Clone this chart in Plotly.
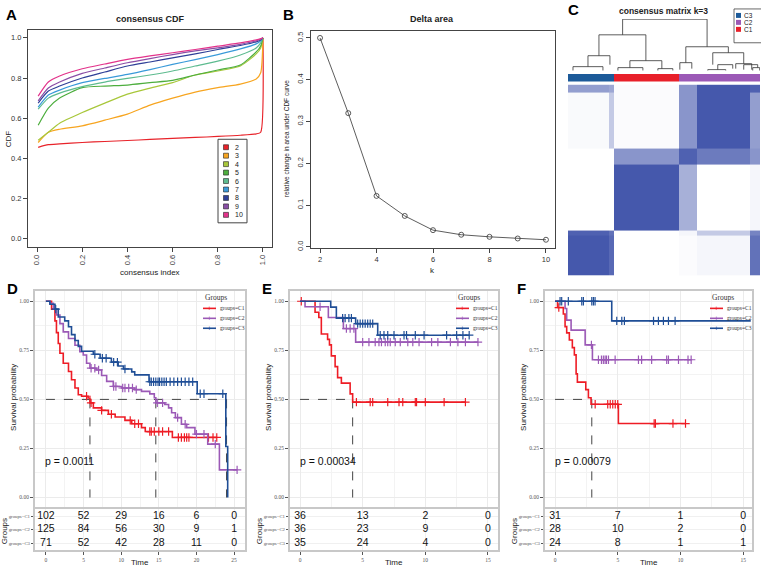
import numpy as np
import plotly.graph_objects as go

W, H = 761, 572
def px(x): return x / W
def py(y): return 1 - y / H
SANS = "Liberation Sans, Arial, sans-serif"
SERIF = "Liberation Serif, Times New Roman, serif"

# ---------------- Panel A: consensus CDF ----------------
cdf_x = [0.005, 0.05, 0.1, 0.2, 0.3, 0.4, 0.5, 0.6, 0.7, 0.8, 0.9, 0.97, 0.99, 1.0]
cdf_k2 = [0.455, 0.468, 0.472, 0.479, 0.484, 0.489, 0.494, 0.499, 0.504, 0.509, 0.515, 0.522, 0.53, 1.0]
cdf_k3 = [0.479, 0.53, 0.545, 0.562, 0.59, 0.62, 0.665, 0.70, 0.73, 0.752, 0.77, 0.795, 0.826, 1.0]
cdf_k4 = [0.49, 0.53, 0.575, 0.628, 0.675, 0.72, 0.75, 0.777, 0.815, 0.835, 0.86, 0.92, 0.95, 1.0]
cdf_k5 = [0.565, 0.65, 0.70, 0.752, 0.76, 0.765, 0.777, 0.788, 0.815, 0.84, 0.865, 0.93, 0.96, 1.0]
cdf_k6 = [0.645, 0.70, 0.725, 0.757, 0.78, 0.798, 0.815, 0.835, 0.86, 0.884, 0.915, 0.95, 0.975, 1.0]
cdf_k7 = [0.655, 0.715, 0.74, 0.777, 0.798, 0.818, 0.842, 0.868, 0.892, 0.917, 0.945, 0.97, 0.985, 1.0]
cdf_k8 = [0.675, 0.735, 0.76, 0.80, 0.83, 0.86, 0.88, 0.90, 0.92, 0.942, 0.962, 0.98, 0.99, 1.0]
cdf_k9 = [0.686, 0.75, 0.78, 0.823, 0.85, 0.876, 0.897, 0.917, 0.935, 0.95, 0.968, 0.985, 0.993, 1.0]
cdf_k10 = [0.71, 0.78, 0.81, 0.846, 0.87, 0.893, 0.91, 0.926, 0.942, 0.959, 0.975, 0.99, 0.996, 1.0]
cdf_labels = ["2", "3", "4", "5", "6", "7", "8", "9", "10"]
cdf_colors = ["#E8232A", "#F7A520", "#A8C73A", "#4DAE3E", "#5DBB8F", "#3A9AD9", "#2E3F97", "#8A4FA6", "#E3338B"]

# ---------------- Panel B: delta area ----------------
delta_k = [2, 3, 4, 5, 6, 7, 8, 9, 10]
delta_val = [0.5, 0.32, 0.122, 0.074, 0.04, 0.029, 0.024, 0.02, 0.017]

# ---------------- Panel C: consensus matrix ----------------
hm_col_edges = [0, 40.7, 46, 111.3, 129, 182.3, 192.3]
hm_row_edges = [0, 8.3, 64.3, 81, 146.7, 151.7, 192.3]
hm_values = [
    [0.55, 0.5, 0.02, 0.6, 0.95, 0.9],
    [0.03, 0.3, 0.02, 0.6, 0.95, 0.55],
    [0.0, 0.0, 0.6, 0.9, 0.75, 0.6],
    [0.0, 0.0, 0.95, 0.45, 0.0, 0.05],
    [0.9, 0.8, 0.0, 0.05, 0.3, 0.7],
    [0.95, 0.85, 0.0, 0.02, 0.05, 0.8],
]
cluster_edges = [0, 46, 111.3, 192.3]
cluster_names = ["C3", "C1", "C2"]
cluster_colors = {"C3": "#1C5A99", "C2": "#9B59B6", "C1": "#E8202A"}
# dendrogram links: left x, right x, left child height, right child height, merge height
dend_x0 = [54.7, 31, 20, 62, 118, 112, 145, 150, 168, 176, 5, 50, 90, 140, 185]
dend_x1 = [139.3, 78, 42, 94, 160.6, 124, 176, 165, 184, 190, 35, 75, 105, 158, 192]
dend_h0 = [36, 15, 4, 3, 8, 1, 6, 1, 2, 1, 0, 0, 0, 0, 0]
dend_h1 = [24, 10, 6, 2, 18, 2, 7, 2, 1, 3, 0, 0, 0, 0, 0]
dend_top = [51.7, 36, 15, 10, 24, 8, 18, 6, 7, 6, 4, 3, 2, 1, 3]

# ---------------- Panels D/E/F: Kaplan-Meier ----------------
D_C1_t = [0, 0.75, 1.2, 1.4, 1.64, 1.86, 2.3, 3.0, 3.4, 3.86, 4.3, 4.74, 5.6, 5.85, 6.3, 7.4, 8.3, 9.2, 10.5, 11.4, 12.7, 13.2, 16.8, 22.7]
D_C1_s = [1.0, 0.96, 0.90, 0.84, 0.785, 0.735, 0.684, 0.642, 0.60, 0.558, 0.524, 0.516, 0.507, 0.482, 0.457, 0.444, 0.424, 0.41, 0.393, 0.376, 0.356, 0.336, 0.306, 0.306]
D_C1_cens = [5.4, 6.0, 7.4, 8.7, 11.2, 11.8, 12.3, 13.8, 14.0, 14.4, 15.0, 15.5, 16.3, 17.6, 18.0, 18.4, 18.7, 19.0, 21.6, 22.2, 22.7]
D_C2_t = [0, 0.53, 1.0, 1.4, 1.86, 2.3, 3.0, 3.86, 4.5, 4.96, 5.4, 5.85, 6.7, 7.4, 8.07, 8.95, 10.06, 11.8, 12.7, 13.8, 14.4, 14.6, 15.8, 16.3, 16.7, 17.2, 18.0, 18.7, 19.8, 21.5, 23.05, 25.4]
D_C2_s = [1.0, 0.99, 0.96, 0.93, 0.886, 0.844, 0.81, 0.776, 0.743, 0.726, 0.684, 0.659, 0.65, 0.622, 0.592, 0.566, 0.558, 0.55, 0.541, 0.528, 0.508, 0.482, 0.474, 0.457, 0.432, 0.407, 0.373, 0.356, 0.323, 0.272, 0.141, 0.141]
D_C2_cens = [6.0, 6.5, 7.0, 9.0, 9.3, 10.2, 10.5, 11.0, 11.5, 12.0, 14.8, 15.5, 17.5, 18.5, 20.0, 21.0, 22.5, 25.4]
D_C3_t = [0, 0.53, 1.2, 1.64, 2.5, 3.0, 3.4, 3.86, 4.3, 4.74, 6.3, 7.2, 8.7, 9.6, 10.3, 11.4, 11.8, 13.7, 20.1, 23.9, 24.15]
D_C3_s = [1.0, 0.985, 0.96, 0.92, 0.90, 0.87, 0.83, 0.80, 0.77, 0.745, 0.73, 0.71, 0.69, 0.67, 0.655, 0.64, 0.625, 0.59, 0.529, 0.26, 0.0]
D_C3_cens = [1.3, 6.5, 7.5, 8.0, 9.0, 9.5, 10.5, 13.8, 14.0, 14.3, 14.6, 14.9, 15.1, 15.4, 15.7, 16.0, 16.5, 17.0, 17.5, 18.0, 18.5, 19.0, 19.5, 20.5, 21.0, 23.5]
D_medians = [5.85, 14.6, 24.0]
D_times = [0, 5, 10, 15, 20, 25]
D_risk_C1 = [102, 52, 29, 16, 6, 0]
D_risk_C2 = [125, 84, 56, 30, 9, 1]
D_risk_C3 = [71, 52, 42, 28, 11, 0]
D_p = "p = 0.0011"

E_C1_t = [0, 1.2, 1.5, 1.7, 2.2, 2.35, 2.5, 2.8, 3.0, 3.3, 4.0, 4.2, 13.2]
E_C1_s = [1.0, 0.944, 0.917, 0.833, 0.806, 0.778, 0.722, 0.667, 0.611, 0.583, 0.528, 0.486, 0.486]
E_C1_cens = [0.1, 4.5, 5.6, 5.8, 7.0, 7.9, 8.2, 9.2, 9.3, 10.0, 11.5, 13.2]
E_C2_t = [0, 0.4, 2.26, 3.46, 4.44, 14.2]
E_C2_s = [1.0, 0.972, 0.917, 0.861, 0.792, 0.792]
E_C2_cens = [1.6, 3.7, 4.0, 4.3, 5.0, 5.5, 6.0, 6.3, 6.5, 6.8, 7.0, 7.2, 7.6, 8.0, 8.6, 9.0, 9.5, 10.5, 11.0, 12.0, 12.6, 13.2, 14.2]
E_C3_t = [0, 2.45, 2.9, 4.44, 6.2, 13.5]
E_C3_s = [1.0, 0.97, 0.914, 0.886, 0.827, 0.827]
E_C3_cens = [3.4, 3.6, 3.9, 4.1, 4.6, 4.8, 5.0, 5.2, 5.4, 5.6, 5.8, 6.4, 6.7, 7.0, 7.5, 8.3, 8.5, 9.2, 9.9, 11.7, 12.5, 13.0, 13.5]
E_medians = [4.2]
E_times = [0, 5, 10, 15]
E_risk_C1 = [36, 13, 2, 0]
E_risk_C2 = [36, 23, 9, 0]
E_risk_C3 = [35, 24, 4, 0]
E_p = "p = 0.00034"

F_C1_t = [0, 0.2, 0.66, 0.8, 0.93, 1.14, 1.38, 1.54, 1.68, 1.78, 2.45, 2.66, 2.87, 5.05, 10.4]
F_C1_s = [1.0, 0.968, 0.935, 0.871, 0.839, 0.803, 0.764, 0.727, 0.63, 0.588, 0.55, 0.508, 0.475, 0.377, 0.377]
F_C1_cens = [0.3, 3.2, 4.2, 4.4, 4.6, 4.8, 5.0, 7.9, 8.0, 9.4, 10.4]
F_C2_t = [0, 0.8, 0.93, 1.28, 2.4, 2.98, 10.85]
F_C2_s = [1.0, 0.963, 0.904, 0.853, 0.778, 0.702, 0.702]
F_C2_cens = [2.9, 3.46, 3.7, 3.85, 3.99, 4.1, 4.26, 4.79, 6.65, 6.9, 7.7, 8.9, 9.04, 9.84, 10.6, 10.85]
F_C3_t = [0, 4.52, 15.6]
F_C3_s = [1.0, 0.9, 0.9]
F_C3_cens = [0.4, 0.53, 1.06, 2.13, 2.26, 2.93, 3.06, 3.19, 4.92, 5.32, 5.53, 7.85, 8.24, 8.64, 9.04, 9.57]
F_medians = [2.93]
F_times = [0, 5, 10, 15]
F_risk_C1 = [31, 7, 1, 0]
F_risk_C2 = [28, 10, 2, 0]
F_risk_C3 = [24, 8, 1, 1]
F_p = "p = 0.00079"

group_labels = ["groups=C1", "groups=C2", "groups=C3"]
km_colors = ["#EE1C25", "#9B59B6", "#1F4E96"]

fig = go.Figure()
layout = dict(width=W, height=H, margin=dict(l=0, r=0, t=0, b=0),
              paper_bgcolor="white", plot_bgcolor="white", showlegend=False)
annotations = []
shapes = []

def text(x, y, s, size=8, color="#222", bold=False, angle=0, xanchor="center", yanchor="middle", font=SANS):
    annotations.append(dict(x=px(x), y=py(y), xref="paper", yref="paper", text=("<b>%s</b>" % s) if bold else s,
                            showarrow=False, font=dict(size=size, color=color, family=font),
                            textangle=angle, xanchor=xanchor, yanchor=yanchor))

def base_axis(dom, anchor, **kw):
    d = dict(domain=dom, anchor=anchor, showline=True, mirror=True, linecolor="#444", linewidth=1,
             ticks="outside", ticklen=4, tickcolor="#444", tickwidth=1,
             showgrid=False, zeroline=False, tickfont=dict(size=7.5, color="#333", family=SANS))
    d.update(kw)
    return d

# ---- A ----
for ys, lab, col in zip([cdf_k2, cdf_k3, cdf_k4, cdf_k5, cdf_k6, cdf_k7, cdf_k8, cdf_k9, cdf_k10], cdf_labels, cdf_colors):
    fig.add_trace(go.Scatter(x=cdf_x, y=ys, mode="lines", line=dict(color=col, width=1.2, shape="spline", smoothing=0.6),
                             xaxis="x", yaxis="y", name=lab))
layout["xaxis"] = base_axis([px(28), px(272)], "y", range=[-0.04, 1.04], tickvals=[0, 0.2, 0.4, 0.6, 0.8, 1.0],
                            ticktext=["0.0", "0.2", "0.4", "0.6", "0.8", "1.0"], tickangle=-90)
layout["yaxis"] = base_axis([py(248), py(30)], "x", range=[-0.04, 1.04], tickvals=[0, 0.2, 0.4, 0.6, 0.8, 1.0],
                            ticktext=["0.0", "0.2", "0.4", "0.6", "0.8", "1.0"])
text(4, 15, "A", size=15, bold=True, color="#000", xanchor="left")
text(150, 19, "consensus CDF", size=9, bold=True)
text(150, 274, "consensus index", size=8)
text(8, 140, "CDF", size=8, angle=-90)
shapes.append(dict(type="rect", xref="paper", yref="paper", x0=px(218), x1=px(247), y0=py(224), y1=py(140),
                   line=dict(color="#444", width=1), fillcolor="white"))
for i, (lab, col) in enumerate(zip(cdf_labels, cdf_colors)):
    yy = 148 + i * 8.5
    shapes.append(dict(type="rect", xref="paper", yref="paper", x0=px(223.5), x1=px(228.5), y0=py(yy + 2.5), y1=py(yy - 2.5),
                       line=dict(color="#222", width=0.6), fillcolor=col))
    text(233, yy, lab, size=7, xanchor="left")

# ---- B ----
fig.add_trace(go.Scatter(x=delta_k, y=delta_val, mode="lines+markers", line=dict(color="#333", width=0.8),
                         marker=dict(symbol="circle-open", size=5, color="#333", line=dict(width=0.8)),
                         xaxis="x2", yaxis="y2"))
layout["xaxis2"] = base_axis([px(311), px(555)], "y2", range=[1.68, 10.32], tickvals=[2, 4, 6, 8, 10])
layout["yaxis2"] = base_axis([py(249), py(31)], "x2", range=[-0.002, 0.517], tickvals=[0, 0.1, 0.2, 0.3, 0.4, 0.5],
                             ticktext=["0.0", "0.1", "0.2", "0.3", "0.4", "0.5"], tickangle=-90)
text(281, 15, "B", size=15, bold=True, color="#000", xanchor="left")
text(432, 19, "Delta area", size=9, bold=True)
text(432, 272, "k", size=8)
text(287, 140, "relative change in area under CDF curve", size=6.5, angle=-90)

# ---- C ----
fig.add_trace(go.Heatmap(x=hm_col_edges, y=hm_row_edges, z=hm_values, zmin=0, zmax=1,
                         colorscale=[[0, "#FFFFFF"], [1, "#3B4FA8"]], showscale=False, xaxis="x3", yaxis="y3"))
hid = dict(showline=False, showticklabels=False, ticks="", showgrid=False, zeroline=False)
layout["xaxis3"] = dict(domain=[px(568), px(760)], anchor="y3", range=[0, 192.3], **hid)
layout["yaxis3"] = dict(domain=[py(277), py(85)], anchor="x3", range=[192.3, 0], **hid)
for i, nm in enumerate(cluster_names):
    fig.add_trace(go.Bar(x=[(cluster_edges[i] + cluster_edges[i + 1]) / 2], y=[1],
                         width=[cluster_edges[i + 1] - cluster_edges[i]], marker=dict(color=cluster_colors[nm], line=dict(width=0)),
                         xaxis="x4", yaxis="y4"))
layout["xaxis4"] = dict(domain=[px(568), px(760)], anchor="y4", range=[0, 192.3], **hid)
layout["yaxis4"] = dict(domain=[py(82), py(74)], anchor="x4", range=[0, 1], **hid)
dx, dy = [], []
for a, b, h0, h1, t in zip(dend_x0, dend_x1, dend_h0, dend_h1, dend_top):
    dx += [a, a, b, b, None]
    dy += [h0, t, t, h1, None]
fig.add_trace(go.Scatter(x=dx, y=dy, mode="lines", line=dict(color="#333", width=0.8), xaxis="x5", yaxis="y5"))
layout["xaxis5"] = dict(domain=[px(568), px(760)], anchor="y5", range=[0, 192.3], **hid)
layout["yaxis5"] = dict(domain=[py(71), py(19)], anchor="x5", range=[0, 52], **hid)
text(566, 10, "C", size=15, bold=True, color="#000", xanchor="left")
text(663, 11, "consensus matrix k=3", size=8.5, bold=True)
shapes.append(dict(type="rect", xref="paper", yref="paper", x0=px(734), x1=px(762), y0=py(43), y1=py(9),
                   line=dict(color="#444", width=0.8), fillcolor="white"))
for i, nm in enumerate(["C3", "C2", "C1"]):
    yy = 15.5 + i * 7
    shapes.append(dict(type="rect", xref="paper", yref="paper", x0=px(736), x1=px(741), y0=py(yy + 2.5), y1=py(yy - 2.5),
                       line=dict(width=0), fillcolor=cluster_colors[nm]))
    text(742, yy, nm, size=6.5, xanchor="left")

# ---- KM panels ----
def step_value(t, s, c):
    i = np.searchsorted(np.array(t), c, side="right") - 1
    return s[max(i, 0)]

def km_panel(ix, ix2, xl, xr, xrange, curves, cens, medians, times, risks, ptxt, letter):
    xa, ya, xb, yb = "x%d" % ix, "y%d" % ix, "x%d" % ix2, "y%d" % ix2
    fig.add_trace(go.Scatter(x=[0, max(medians)], y=[0.5, 0.5], mode="lines", line=dict(color="#444", width=1, dash="dash"),
                             xaxis=xa, yaxis=ya))
    for m in medians:
        fig.add_trace(go.Scatter(x=[m, m], y=[0.5, 0], mode="lines", line=dict(color="#444", width=1, dash="dash"),
                                 xaxis=xa, yaxis=ya))
    for (t, s), c, col in zip(curves, cens, km_colors):
        fig.add_trace(go.Scatter(x=t, y=s, mode="lines", line=dict(color=col, width=1.6, shape="hv"), xaxis=xa, yaxis=ya))
        fig.add_trace(go.Scatter(x=c, y=[step_value(t, s, v) for v in c], mode="markers",
                                 marker=dict(symbol="cross-thin", size=6, line=dict(color=col, width=1.2)),
                                 xaxis=xa, yaxis=ya))
    grid = dict(showgrid=True, gridcolor="#EBEBEB", gridwidth=1)
    layout["xaxis%d" % ix] = dict(domain=[px(xl), px(xr)], anchor=ya, range=xrange, tickvals=times, showticklabels=False,
                                  ticks="outside", ticklen=3, tickcolor="#555", zeroline=False, showline=True, mirror=True,
                                  linecolor="#C8C8C8", linewidth=2,
                                  minor=dict(showgrid=True, gridcolor="#F3F3F3", dtick=2.5), **grid)
    layout["yaxis%d" % ix] = dict(domain=[py(510), py(293)], anchor=xa, range=[-0.05, 1.05], tickvals=[0, 0.25, 0.5, 0.75, 1.0],
                                  ticktext=["0.00", "0.25", "0.50", "0.75", "1.00"], ticks="outside", ticklen=3,
                                  tickcolor="#555", zeroline=False, showline=True, mirror=True, linecolor="#C8C8C8",
                                  linewidth=2, tickfont=dict(size=5.5, color="#555", family=SERIF),
                                  minor=dict(showgrid=True, gridcolor="#F3F3F3", dtick=0.125), **grid)
    for row, vals in enumerate(risks):
        fig.add_trace(go.Scatter(x=times, y=[3 - row] * len(times), mode="text", text=[str(v) for v in vals],
                                 textfont=dict(size=10.5, color="#111", family=SANS), xaxis=xb, yaxis=yb))
    layout["xaxis%d" % ix2] = dict(domain=[px(xl), px(xr)], anchor=yb, range=xrange, tickvals=times, ticks="outside", ticklen=3,
                                   tickcolor="#555", zeroline=False, showline=True, mirror=True, linecolor="#C8C8C8",
                                   linewidth=2, tickfont=dict(size=5.5, color="#555", family=SERIF),
                                   showgrid=True, gridcolor="#F0F0F0")
    layout["yaxis%d" % ix2] = dict(domain=[py(553), py(512)], anchor=xb, range=[0.5, 3.5], tickvals=[3, 2, 1], ticktext=group_labels,
                                   ticks="outside", ticklen=2, tickcolor="#555", zeroline=False, showline=True, mirror=True,
                                   linecolor="#C8C8C8", linewidth=2, tickfont=dict(size=4.8, color="#555", family=SERIF),
                                   showgrid=True, gridcolor="#F0F0F0")
    cx = (xl + xr) / 2
    text(xl - 21, 400, "Survival probability", size=8, angle=-90)
    text(xl - 31, 534, "Groups", size=8, angle=-90)
    text(cx, 565, "Time", size=8)
    text(xl + 8, 463, ptxt, size=10.5, xanchor="left", color="#111")
    text(xl - 30, 290, letter, size=15, bold=True, color="#000", xanchor="left")
    lx = xr - 42
    text(lx, 299, "Groups", size=7.5, xanchor="left", font=SERIF, color="#333")
    for i, (lab, col) in enumerate(zip(group_labels, km_colors)):
        yy = 310 + i * 10
        shapes.append(dict(type="line", xref="paper", yref="paper", x0=px(lx), x1=px(lx + 13), y0=py(yy), y1=py(yy),
                           line=dict(color=col, width=1.6)))
        text(lx + 6.5, yy, "+", size=8, color=col, font=SANS)
        text(lx + 15, yy, lab, size=5.5, xanchor="left", font=SERIF, color="#333")

km_panel(6, 7, 35, 245, [-1.45, 26.45],
         [(D_C1_t, D_C1_s), (D_C2_t, D_C2_s), (D_C3_t, D_C3_s)], [D_C1_cens, D_C2_cens, D_C3_cens],
         D_medians, D_times, [D_risk_C1, D_risk_C2, D_risk_C3], D_p, "D")
km_panel(8, 9, 290, 498, [-0.8, 15.8],
         [(E_C1_t, E_C1_s), (E_C2_t, E_C2_s), (E_C3_t, E_C3_s)], [E_C1_cens, E_C2_cens, E_C3_cens],
         E_medians, E_times, [E_risk_C1, E_risk_C2, E_risk_C3], E_p, "E")
km_panel(10, 11, 545, 752, [-0.8, 15.7],
         [(F_C1_t, F_C1_s), (F_C2_t, F_C2_s), (F_C3_t, F_C3_s)], [F_C1_cens, F_C2_cens, F_C3_cens],
         F_medians, F_times, [F_risk_C1, F_risk_C2, F_risk_C3], F_p, "F")

layout["annotations"] = annotations
layout["shapes"] = shapes
layout["bargap"] = 0
fig.update_layout(**layout)
fig.write_html("out.html", config={"displayModeBar": False},
               post_script="document.body.style.margin='0';document.body.style.overflow='hidden';")
